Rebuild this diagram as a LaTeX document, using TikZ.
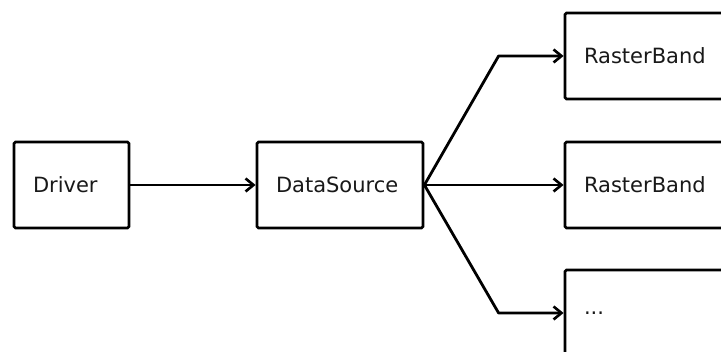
\documentclass[tikz,border=0pt]{standalone}
\usepackage{fontspec}
\setmainfont{DejaVu Sans}
\usetikzlibrary{arrows.meta}
\begin{document}
\begin{tikzpicture}[x=1pt,y=1pt,
  box/.style={draw=black, line width=2.8pt, rounded corners=1.5pt, minimum height=86pt,
    inner xsep=19pt, inner ysep=0pt, text width=#1, align=left,
    font=\fontsize{21}{25}\selectfont, text=black!90},
  conn/.style={line width=2.8pt, line join=round,
    -{Straight Barb[length=8pt,width=13pt,line width=2.6pt]}}]
\useasboundingbox (0,0) rectangle (721,352);
\clip (0,0) rectangle (721,352);
\fill[white] (0,0) rectangle (721,352);
\node[box=77pt]  (drv) at (71.5,167)  {Driver};
\node[box=128pt] (ds)  at (340,167)   {DataSource};
\node[box=137pt] (rb1) at (652.5,296) {RasterBand};
\node[box=137pt] (rb2) at (652.5,167) {RasterBand};
\node[box=137pt] (rb3) at (652.5,39)  {...};
\coordinate (b1) at ([xshift=-65pt]rb1.west);
\coordinate (b3) at ([xshift=-65pt]rb3.west);
\draw[conn] (drv.east) -- (ds.west);
\draw[conn] (ds.east) -- (b1) -- (rb1.west);
\draw[conn] (ds.east) -- (rb2.west);
\draw[conn] (ds.east) -- (b3) -- (rb3.west);
\end{tikzpicture}
\end{document}
